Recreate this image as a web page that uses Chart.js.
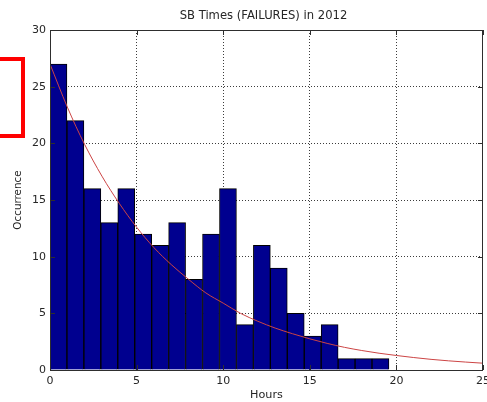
<!DOCTYPE html>
<html>
<head>
<meta charset="utf-8">
<script src="https://cdn.jsdelivr.net/npm/chart.js@4/dist/chart.umd.min.js"></script>
<style>
  html, body { margin: 0; padding: 0; background: #fff; }
  #wrap { position: relative; width: 487px; height: 402px; overflow: hidden; }
  #chart { position: absolute; left: 0; top: 0; }
  #mark { position: absolute; left: -10px; top: 57px; width: 27px; height: 73px;
          border: 4px solid #ff0000; box-sizing: content-box; }
</style>
</head>
<body>
<div id="wrap">
  <canvas id="chart" width="487" height="402"></canvas>
  <div id="mark"></div>
</div>
<script>
// Histogram bins (hours) and failure counts per bin
const binCenters = [0.489, 1.468, 2.446, 3.425, 4.403, 5.382, 6.360, 7.339, 8.318, 9.296,
                    10.275, 11.253, 12.232, 13.210, 14.189, 15.167, 16.146, 17.124, 18.103, 19.081];
const counts = [27, 22, 16, 13, 16, 12, 11, 13, 8, 12, 16, 4, 11, 9, 5, 3, 4, 1, 1, 1];

// Fitted decay curve, sampled every hour
const fitHours = [0, 1, 2, 3, 4, 5, 6, 7, 8, 9, 10, 11, 12, 13, 14, 15, 16, 17, 18, 19, 20, 21, 22, 23, 24, 25];
const fitCounts = [27, 23.2, 19.9, 17.1, 14.7, 12.6, 10.8, 9.3, 8.0, 6.8, 5.9, 5.0, 4.3, 3.7, 3.2,
                   2.75, 2.35, 2.0, 1.72, 1.48, 1.28, 1.1, 0.94, 0.81, 0.7, 0.6];

// Axis ticks
const xTicks = [0, 5, 10, 15, 20, 25];
const yTicks = [0, 5, 10, 15, 20, 25, 30];

const titleText = 'SB Times (FAILURES) in 2012';
const xTitle = 'Hours';
const yTitle = 'Occurrence';

const FONT = '"DejaVu Sans", Verdana, sans-serif';
const TEXT = '#262626';

// Title drawn above the plot box, plus the axes frame and inward tick marks
const framePlugin = {
  id: 'frame',
  afterDraw(chart) {
    const { ctx, chartArea: a, scales: { x, y } } = chart;
    ctx.save();
    ctx.strokeStyle = '#2e2e2e';
    ctx.lineWidth = 1;
    ctx.strokeRect(Math.round(a.left) + 0.5, Math.round(a.top) + 0.5,
                   Math.round(a.right - a.left) - 1, Math.round(a.bottom - a.top));
    const len = 5;
    ctx.beginPath();
    xTicks.forEach(v => {
      const px = Math.round(x.getPixelForValue(v)) + 0.5;
      ctx.moveTo(px, a.bottom); ctx.lineTo(px, a.bottom - len);
      ctx.moveTo(px, a.top); ctx.lineTo(px, a.top + len);
    });
    yTicks.forEach(v => {
      const py = Math.round(y.getPixelForValue(v)) + 0.5;
      ctx.moveTo(a.left, py); ctx.lineTo(a.left + len, py);
      ctx.moveTo(a.right, py); ctx.lineTo(a.right - len, py);
    });
    ctx.stroke();
    ctx.fillStyle = TEXT;
    ctx.font = '11.6px ' + FONT;
    ctx.textAlign = 'center';
    ctx.textBaseline = 'alphabetic';
    ctx.fillText(titleText, (a.left + a.right) / 2 - 3, 18.5);
    ctx.restore();
  }
};

// Dotted grid only on interior ticks; the frame covers the outer ones
const innerGrid = (ctx) => {
  const n = ctx.scale.ticks.length;
  return (ctx.index === 0 || ctx.index === n - 1) ? 'rgba(0,0,0,0)' : '#3c3c3c';
};

new Chart(document.getElementById('chart'), {
  type: 'bar',
  data: {
    datasets: [
      {
        type: 'line',
        data: fitHours.map((h, i) => ({ x: h, y: fitCounts[i] })),
        borderColor: '#cc4444',
        borderWidth: 1,
        pointRadius: 0,
        cubicInterpolationMode: 'monotone',
        fill: false,
        order: 0
      },
      {
        type: 'bar',
        data: binCenters.map((c, i) => ({ x: c, y: counts[i] })),
        backgroundColor: '#00008f',
        borderColor: '#000000',
        borderWidth: 1,
        borderSkipped: 'start',
        barPercentage: 1,
        categoryPercentage: 1,
        order: 1
      }
    ]
  },
  options: {
    responsive: false,
    animation: false,
    events: [],
    layout: { padding: { left: 0, right: 4, top: 30, bottom: 0 } },
    plugins: { legend: { display: false }, tooltip: { enabled: false }, title: { display: false } },
    scales: {
      x: {
        type: 'linear',
        offset: false,
        min: 0, max: 25,
        afterBuildTicks: s => { s.ticks = xTicks.map(v => ({ value: v })); },
        ticks: { color: TEXT, font: { family: FONT, size: 11 }, padding: 5, maxRotation: 0, autoSkip: false },
        grid: { drawTicks: false, color: innerGrid, lineWidth: 1, offset: false },
        border: { display: false, dash: [1, 2] },
        title: { display: true, text: xTitle, color: TEXT, font: { family: FONT, size: 11.2 }, padding: { top: 0, bottom: 0 } },
        afterFit: s => { s.height = 32; s.paddingLeft = 0; s.paddingRight = 0; }
      },
      y: {
        min: 0, max: 30,
        afterBuildTicks: s => { s.ticks = yTicks.map(v => ({ value: v })); },
        ticks: { color: TEXT, font: { family: FONT, size: 11 }, padding: 4 },
        grid: { drawTicks: false, color: innerGrid, lineWidth: 1 },
        border: { display: false, dash: [1, 2] },
        title: { display: true, text: yTitle, color: TEXT, font: { family: FONT, size: 10.4 }, padding: { top: 12, bottom: 0 } },
        afterFit: s => { s.width = 50; s.paddingTop = 0; s.paddingBottom = 0; }
      }
    }
  },
  plugins: [framePlugin]
});
</script>
</body>
</html>
